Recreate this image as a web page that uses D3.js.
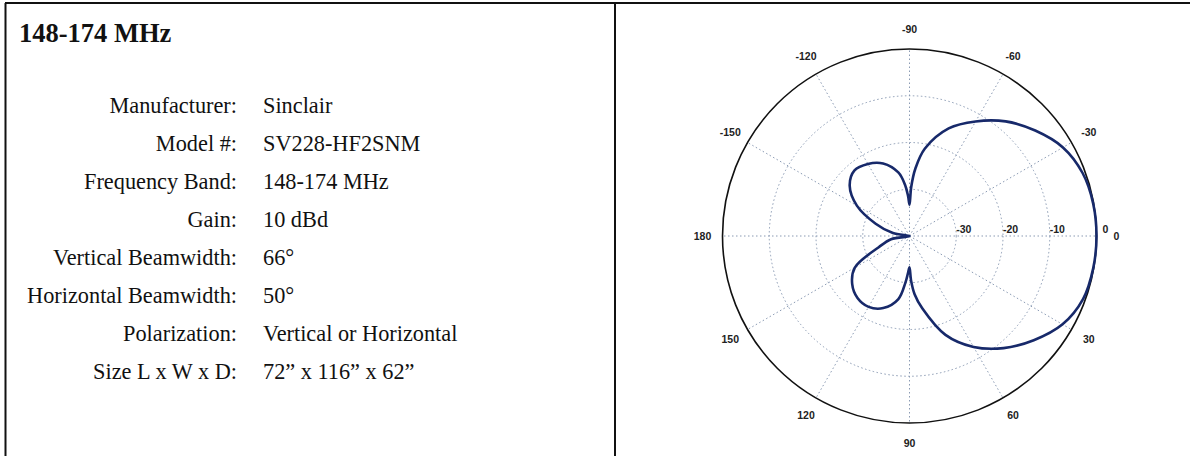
<!DOCTYPE html>
<html>
<head>
<meta charset="utf-8">
<script src="https://cdn.jsdelivr.net/npm/d3@7"></script>
<style>
    html, body { margin:0; padding:0; background:#fff; }
    svg { display:block; }
</style>
</head>
<body>
<div id="chart"></div>
<script>

//******************************************************************************
//**  Data
//******************************************************************************
var title = "148-174 MHz";
var specLabels = ["Manufacturer:", "Model #:", "Frequency Band:", "Gain:",
    "Vertical Beamwidth:", "Horizontal Beamwidth:", "Polarization:", "Size L x W x D:"];
var specValues = ["Sinclair", "SV228-HF2SNM", "148-174 MHz", "10 dBd",
    "66\u00b0", "50\u00b0", "Vertical or Horizontal", "72\u201d x 116\u201d x 62\u201d"];

var angleTicks = [0, 30, 60, 90, 120, 150, 180, -150, -120, -90, -60, -30];
var ringTicks = [-30, -20, -10, 0];

//pattern (degrees, dB)
var patternAngles = [-180,-170,-160,-150,-140,-130,-120,-110,-100,-95,-92,-90,-88,-85,
    -80,-70,-60,-50,-40,-30,-20,-10,0,10,20,30,40,50,60,70,80,85,88,90,92,95,
    100,110,120,130,140,150,160,170];
var patternDb = [-40,-36.4,-32.3,-27,-23.3,-21.7,-22.2,-23.5,-26.2,-29,-31.5,-33.3,-29.5,-25.5,
    -21,-15.5,-11.7,-8.0,-4.9,-2.1,-0.6,-0.1,0,-0.1,-0.5,-2.2,-5.3,-8.7,-12.6,-17.5,-24.3,-27.5,-30.5,-33.3,-32.3,-30,
    -26.3,-23.6,-22.5,-22.7,-24,-26.5,-33,-36];


//******************************************************************************
//**  Render
//******************************************************************************
var width = 1190, height = 456;
var svg = d3.select("#chart").append("svg")
    .attr("width", width)
    .attr("height", height);


  //Frame
    var frame = svg.append("g")
        .attr("stroke", "#111")
        .attr("stroke-width", 2);
    frame.append("line").attr("x1", 5).attr("x2", width).attr("y1", 3).attr("y2", 3);
    frame.append("line").attr("x1", 5.5).attr("x2", 5.5).attr("y1", 3).attr("y2", height);
    frame.append("line").attr("x1", 615).attr("x2", 615).attr("y1", 3).attr("y2", height);


  //Spec table
    var table = svg.append("g")
        .style("font-family", "'Liberation Serif', 'Times New Roman', serif")
        .attr("fill", "#111");

    table.append("text")
        .attr("x", 19)
        .attr("y", 42)
        .style("font-size", "26.5px")
        .style("font-weight", "bold")
        .text(title);

    var rowY = d3.scalePoint()
        .domain(d3.range(specLabels.length))
        .range([113, 379]);

    table.selectAll(".lbl")
        .data(specLabels)
        .enter()
        .append("text")
        .attr("class", "lbl")
        .attr("x", 237)
        .attr("y", function(d, i){ return rowY(i); })
        .attr("text-anchor", "end")
        .style("font-size", "22.3px")
        .text(function(d){ return d; });

    table.selectAll(".val")
        .data(specValues)
        .enter()
        .append("text")
        .attr("class", "val")
        .attr("x", 263)
        .attr("y", function(d, i){ return rowY(i); })
        .style("font-size", "22.3px")
        .text(function(d){ return d; });


  //Polar plot
    var cx = 909.5, cy = 236, outerR = 187;
    var r = d3.scaleLinear().domain([-40, 0]).range([0, outerR]);
    var rad = function(deg){ return deg * Math.PI / 180; };

    var plot = svg.append("g")
        .attr("transform", "translate(" + cx + "," + cy + ")");

    var grid = plot.append("g")
        .attr("fill", "none")
        .attr("stroke", "#8a9ab3")
        .attr("stroke-width", 1)
        .attr("stroke-dasharray", "1.5,2.5");

    grid.selectAll("circle")
        .data(ringTicks.slice(0, -1))
        .enter()
        .append("circle")
        .attr("r", function(d){ return r(d); });

    grid.selectAll("line")
        .data(angleTicks)
        .enter()
        .append("line")
        .attr("x2", function(d){ return outerR * Math.cos(rad(d)); })
        .attr("y2", function(d){ return outerR * Math.sin(rad(d)); });

    plot.append("circle")
        .attr("r", r(0))
        .attr("fill", "none")
        .attr("stroke", "#111")
        .attr("stroke-width", 1.6);

    var labels = plot.append("g")
        .style("font-family", "'Liberation Sans', Arial, sans-serif")
        .style("font-size", "10.5px")
        .style("font-weight", "bold")
        .attr("fill", "#222");

    labels.selectAll(".ang")
        .data(angleTicks)
        .enter()
        .append("text")
        .attr("class", "ang")
        .attr("x", function(d){ return 207 * Math.cos(rad(d)); })
        .attr("y", function(d){ return 207 * Math.sin(rad(d)); })
        .attr("dy", "0.35em")
        .attr("text-anchor", "middle")
        .text(function(d){ return d; });

    labels.selectAll(".ring")
        .data(ringTicks)
        .enter()
        .append("text")
        .attr("class", "ring")
        .attr("x", function(d){ return r(d) + (d === 0 ? 6 : 0); })
        .attr("y", -3)
        .text(function(d){ return d; });

    var pattern = patternAngles.map(function(a, i){
        return { deg: a, db: patternDb[i] };
    });

    var line = d3.lineRadial()
        .angle(function(d){ return rad(d.deg + 90); })
        .radius(function(d){ return r(d.db); })
        .curve(d3.curveCatmullRomClosed.alpha(0.5));

    plot.append("path")
        .datum(pattern)
        .attr("d", line)
        .attr("fill", "none")
        .attr("stroke", "#17296a")
        .attr("stroke-width", 2.6);

</script>
</body>
</html>
